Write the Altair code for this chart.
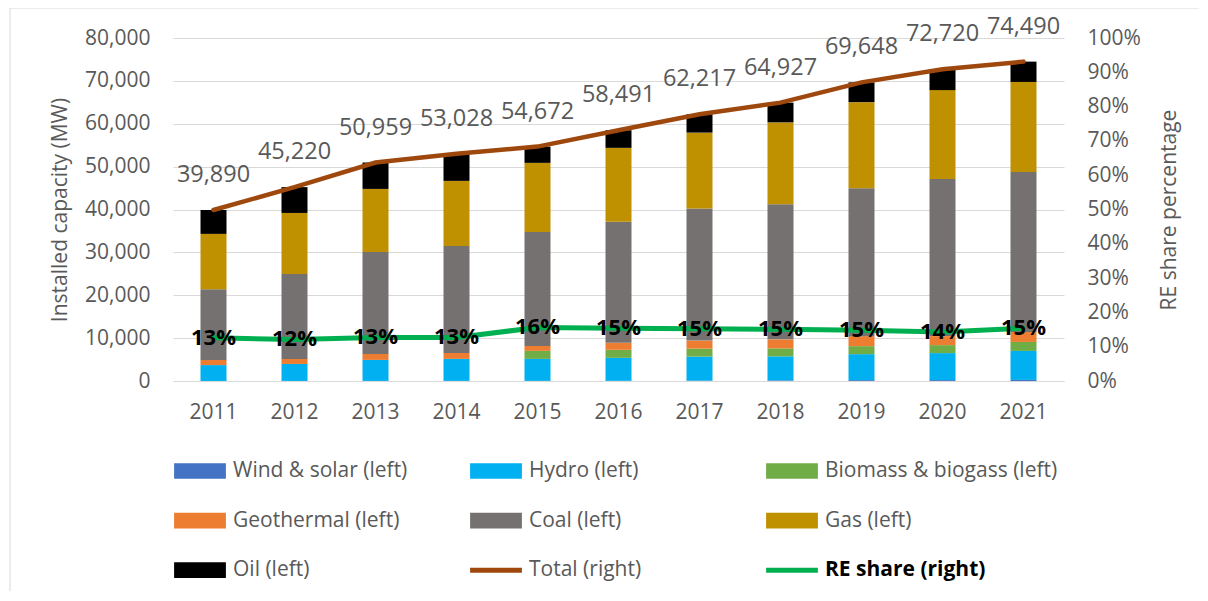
import altair as alt
import pandas as pd

years = ["2011", "2012", "2013", "2014", "2015", "2016", "2017", "2018", "2019", "2020", "2021"]

wind_solar = [10, 15, 20, 25, 30, 40, 90, 150, 200, 210, 250]
hydro = [3700, 3960, 4900, 5130, 5130, 5360, 5600, 5600, 6060, 6300, 6760]
biomass = [0, 0, 0, 0, 1870, 1870, 1860, 1860, 1870, 1860, 2100]
geothermal = [1200, 1170, 1400, 1400, 1160, 1630, 1870, 2100, 2330, 2100, 2340]
coal = [16500, 19830, 23790, 24960, 26590, 28220, 30790, 31490, 34520, 36620, 37310]
gas = [12900, 14220, 14690, 15160, 16100, 17260, 17720, 19120, 20060, 20760, 20990]
oil = [5580, 6025, 6160, 6350, 3790, 4110, 4290, 4610, 4610, 4870, 4740]

totals = [39890, 45220, 50959, 53028, 54672, 58491, 62217, 64927, 69648, 72720, 74490]
re_share = [0.126, 0.121, 0.127, 0.127, 0.156, 0.154, 0.152, 0.151, 0.148, 0.143, 0.154]

bar_names = ["Wind & solar (left)", "Hydro (left)", "Biomass & biogass (left)",
             "Geothermal (left)", "Coal (left)", "Gas (left)", "Oil (left)"]
bar_values = [wind_solar, hydro, biomass, geothermal, coal, gas, oil]
line_names = ["Total (right)", "RE share (right)"]
all_names = bar_names + line_names
colors = ["#4472C4", "#00B0F0", "#70AD47", "#ED7D31", "#767171", "#BF9000", "#000000",
          "#9E480E", "#00B050"]
left_ticks = [0, 10000, 20000, 30000, 40000, 50000, 60000, 70000, 80000]
right_ticks = [0.0, 0.1, 0.2, 0.3, 0.4, 0.5, 0.6, 0.7, 0.8, 0.9, 1.0]

BOX = "M-1.65,-0.5H1.65V0.5H-1.65Z"
LINE = "M-1.65,-0.16H1.65V0.16H-1.65Z"
shapes = [BOX] * 7 + [LINE, LINE]

rows = []
for k, (name, vals) in enumerate(zip(bar_names, bar_values)):
    for i, yr in enumerate(years):
        rows.append({"year": yr, "series": name, "value": vals[i], "order": k})
bars_df = pd.DataFrame(rows)
line_df = pd.DataFrame({"year": years, "total": totals, "re": re_share})
legend_df = pd.DataFrame({"series": all_names})

GRAY = "#595959"
FONT = "Open Sans"

fill_scale = alt.Scale(domain=bar_names, range=colors[:7])
color_scale = alt.Scale(domain=all_names, range=colors)
shape_scale = alt.Scale(domain=all_names, range=shapes)

x_enc = alt.X("year:N", title=None,
              scale=alt.Scale(paddingInner=0, paddingOuter=0),
              axis=alt.Axis(labelAngle=0, labelFontSize=21, labelColor=GRAY,
                            labelPadding=20, ticks=False, domain=True,
                            domainColor="#D9D9D9", grid=False))

left_axis = alt.Axis(values=left_ticks, format=",.0f",
                     labelFontSize=21, labelColor=GRAY, labelPadding=23,
                     labelOverlap=False,
                     ticks=False, domain=False, grid=True, gridColor="#D9D9D9",
                     title="Installed capacity (MW)", titleFontSize=21,
                     titleColor=GRAY, titleFontWeight="normal",
                     titlePadding=14)
left_scale = alt.Scale(domain=[0, 80000], nice=False)

right_axis = alt.Axis(orient="right", values=right_ticks,
                      format=".0%", labelFontSize=21, labelColor=GRAY,
                      labelPadding=23, labelOverlap=False,
                      ticks=False, domain=False, grid=False,
                      title="RE share percentage", titleFontSize=21,
                      titleColor=GRAY, titleFontWeight="normal",
                      titleAngle=270, titlePadding=39)
right_scale = alt.Scale(domain=[0, 1], nice=False)

bars = alt.Chart(bars_df).mark_bar(size=26).encode(
    x=x_enc,
    y=alt.Y("value:Q", stack="zero", scale=left_scale, axis=left_axis),
    fill=alt.Fill("series:N", scale=fill_scale, legend=None),
    order=alt.Order("order:Q"),
)

total_line = alt.Chart(line_df).mark_line(color="#9E480E", strokeWidth=4.5,
                                          strokeCap="round").encode(
    x=alt.X("year:N"),
    y=alt.Y("total:Q", scale=left_scale, axis=left_axis),
)

total_text = alt.Chart(line_df).mark_text(dy=-35, fontSize=23.5, color=GRAY,
                                          baseline="middle").encode(
    x=alt.X("year:N"),
    y=alt.Y("total:Q", scale=left_scale, axis=left_axis),
    text=alt.Text("total:Q", format=",.0f"),
)

legend_layer = alt.Chart(legend_df).mark_point(filled=True, size=0, opacity=1,
                                               fillOpacity=1,
                                               strokeWidth=0).encode(
    color=alt.Color(
        "series:N", scale=color_scale,
        legend=alt.Legend(
            title=None, orient="none", legendX=11, legendY=417, columns=3,
            direction="horizontal",
            gridAlign="all", symbolSize=986, symbolStrokeWidth=0,
            symbolOpacity=1, labelOffset=17, labelFontSize=21, labelFont=FONT,
            labelColor=alt.ExprRef(expr="datum.label == 'RE share (right)' ? 'black' : '#595959'"),
            labelFontWeight=alt.ExprRef(expr="datum.label == 'RE share (right)' ? 'bold' : 'normal'"),
            labelLimit=400, rowPadding=23.6, columnPadding=4, padding=0,
        ),
    ),
    shape=alt.Shape("series:N", scale=shape_scale),
)

frame = alt.Chart(alt.Data(values=[{"a": 1}])).mark_rect(
    fill=None, stroke="#D9D9D9", strokeWidth=1).encode(
    x=alt.value(-163), x2=alt.value(1027), y=alt.value(-30), y2=alt.value(560))

left = alt.layer(frame, bars, total_line, total_text, legend_layer)

re_line = alt.Chart(line_df).mark_line(color="#00B050", strokeWidth=5,
                                       strokeCap="round").encode(
    x=alt.X("year:N"),
    y=alt.Y("re:Q", scale=right_scale, axis=right_axis),
)

re_text = alt.Chart(line_df).mark_text(fontSize=22, fontWeight="bold",
                                       color="black", baseline="middle").encode(
    x=alt.X("year:N"),
    y=alt.Y("re:Q", scale=right_scale, axis=right_axis),
    text=alt.Text("re:Q", format=".0%"),
)

right = alt.layer(re_line, re_text)

chart = alt.layer(left, right).resolve_scale(y="independent").properties(
    width=891, height=343,
    autosize=alt.AutoSizeParams(type="none"),
    padding={"left": 165, "top": 30, "right": 135, "bottom": 210},
).configure(font=FONT).configure_view(stroke=None)

chart.save("out.html", embed_options={"renderer": "svg", "actions": False})
